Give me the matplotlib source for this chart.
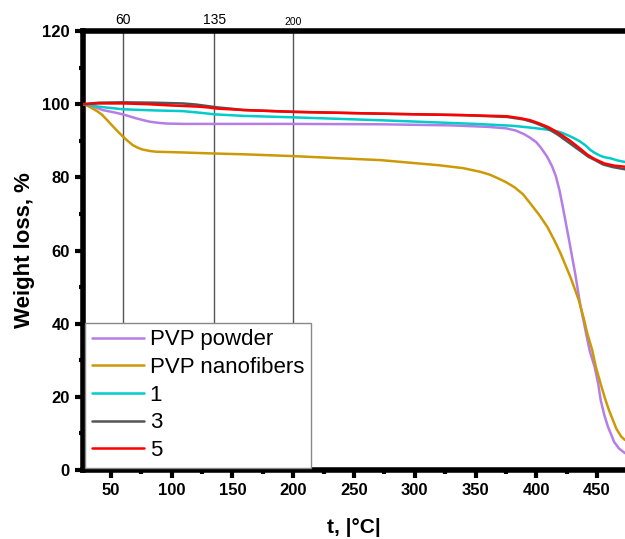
import matplotlib.pyplot as plt
from matplotlib.ticker import MultipleLocator

plt.rcParams['font.family'] = ['Liberation Sans', 'DejaVu Sans']

# temperature points and weight (%) for each sample
t_powder = [27, 35, 43, 52, 60, 66, 71, 77, 82, 89, 96, 110, 137, 159, 200, 272, 330, 360, 375, 383,
            390, 395, 400, 404, 409, 413, 416, 419, 422, 427, 432, 436, 441, 444, 448, 451, 453, 456,
            459, 462, 464, 468, 473]
w_powder = [100, 99.4, 98.4, 97.8, 97.2, 96.6, 96.1, 95.6, 95.2, 94.9, 94.7, 94.6, 94.6, 94.6, 94.6,
            94.5, 94.2, 93.8, 93.4, 92.8, 91.8, 90.8, 89.6, 88.0, 85.6, 83.0, 80.4, 76.6, 71.6, 62.8,
            53.7, 45.5, 37.3, 32.5, 28.2, 23.5, 19.1, 15.0, 11.8, 9.4, 7.7, 5.9, 4.6]

t_fibers = [27, 31, 35, 39, 43, 47, 52, 56, 60, 64, 68, 72, 76, 82, 87, 98, 109, 136, 159, 200, 272,
            320, 340, 354, 362, 368, 375, 382, 389, 395, 402, 409, 415, 420, 424, 428, 432, 435, 439,
            442, 446, 449, 453, 457, 460, 463, 466, 470, 473]
w_fibers = [100, 99.5, 98.8, 98.0, 97.0, 95.6, 93.8, 92.4, 91.1, 89.9, 88.8, 88.1, 87.6, 87.2, 87.0, 86.9,
            86.8, 86.5, 86.3, 85.8, 84.7, 83.3, 82.5, 81.5, 80.7, 79.8, 78.7, 77.3, 75.4, 72.9, 69.9,
            66.5, 62.7, 59.2, 56.0, 52.8, 49.2, 46.4, 41.5, 37.3, 32.8, 28.2, 23.5, 19.1, 16.2, 13.7,
            11.2, 9.1, 8.2]

t_s1 = [27, 40, 60, 85, 109, 122, 136, 159, 200, 272, 350, 380, 395, 405, 413, 420, 426, 431, 436, 441,
        444, 448, 452, 456, 461, 467, 473]
w_s1 = [100, 99.3, 98.6, 98.3, 98.1, 97.7, 97.2, 96.8, 96.4, 95.6, 94.6, 94.1, 93.6, 93.2, 92.9, 92.3,
        91.5, 90.7, 89.8, 88.6, 87.6, 86.7, 86.0, 85.5, 85.2, 84.6, 84.2]

t_s3 = [27, 40, 60, 85, 109, 120, 129, 138, 148, 159, 200, 272, 340, 376, 390, 398, 407, 413, 418, 423,
        428, 433, 438, 443, 449, 455, 463, 473]
w_s3 = [100, 100.4, 100.5, 100.4, 100.2, 99.9, 99.5, 99.1, 98.8, 98.4, 97.9, 97.4, 97.0, 96.5, 95.8, 95.0,
        93.8, 92.6, 91.6, 90.4, 89.2, 88.0, 86.8, 85.6, 84.6, 83.5, 82.8, 82.2]

t_s5 = [27, 40, 60, 80, 96, 110, 123, 130, 137, 148, 159, 200, 272, 340, 376, 388, 395, 402, 410, 417,
        422, 427, 432, 437, 442, 448, 456, 464, 473]
w_s5 = [100, 100.2, 100.2, 100.0, 99.7, 99.5, 99.3, 99.1, 98.8, 98.6, 98.4, 97.9, 97.4, 97.0, 96.7, 96.1,
        95.6, 94.8, 93.7, 92.4, 91.3, 90.2, 88.9, 87.6, 86.2, 85.0, 83.8, 83.2, 82.9]

series = [
    ('PVP powder', t_powder, w_powder, '#b57ee6'),
    ('PVP nanofibers', t_fibers, w_fibers, '#cc9a06'),
    ('1', t_s1, w_s1, '#00cccc'),
    ('3', t_s3, w_s3, '#555555'),
    ('5', t_s5, w_s5, '#ff0000'),
]

marked_temps = [60, 135, 200]
marked_labels = ['60', '135', '200']
marked_sizes = [10, 10, 7.5]

fig = plt.figure(figsize=(6.25, 5.39), dpi=100)
ax = fig.add_axes([0.1328, 0.128, 0.8672, 0.8145])

for t in marked_temps:
    ax.axvline(t, color='#555555', lw=1, zorder=1)

for label, t, w, c in series:
    ax.plot(t, w, color=c, lw=1.8, label=label, zorder=3,
            solid_joinstyle='round', solid_capstyle='round')

for t, lab, fs in zip(marked_temps, marked_labels, marked_sizes):
    ax.text(t, 1.01, lab, transform=ax.get_xaxis_transform(), ha='center', va='bottom', fontsize=fs)

ax.set_xlim(27, 473)
ax.set_ylim(0, 120)
ax.xaxis.set_major_locator(MultipleLocator(50))
ax.xaxis.set_minor_locator(MultipleLocator(25))
ax.yaxis.set_major_locator(MultipleLocator(20))
ax.yaxis.set_minor_locator(MultipleLocator(10))
ax.tick_params(which='major', direction='out', length=6, width=3, labelsize=12)
ax.tick_params(which='minor', direction='out', length=3, width=3)
for lab in ax.get_xticklabels() + ax.get_yticklabels():
    lab.set_fontweight('bold')

for side in ['left', 'bottom', 'top']:
    ax.spines[side].set_linewidth(4)
ax.spines['right'].set_visible(False)

ax.set_ylabel('Weight loss, %', fontsize=16, fontweight='bold', labelpad=5)
ax.set_xlabel('t, |°C|', fontsize=15, fontweight='bold', labelpad=14)

leg = ax.legend(loc='lower left', bbox_to_anchor=(0.0, 0.0), fontsize=16, fancybox=False,
                edgecolor='#888888', framealpha=1, borderaxespad=0.1, handlelength=2.35,
                labelspacing=0.3, borderpad=0.3, handletextpad=0.25)
leg.get_frame().set_linewidth(1)
leg.set_zorder(5)

fig.savefig('out.png', dpi=100)
